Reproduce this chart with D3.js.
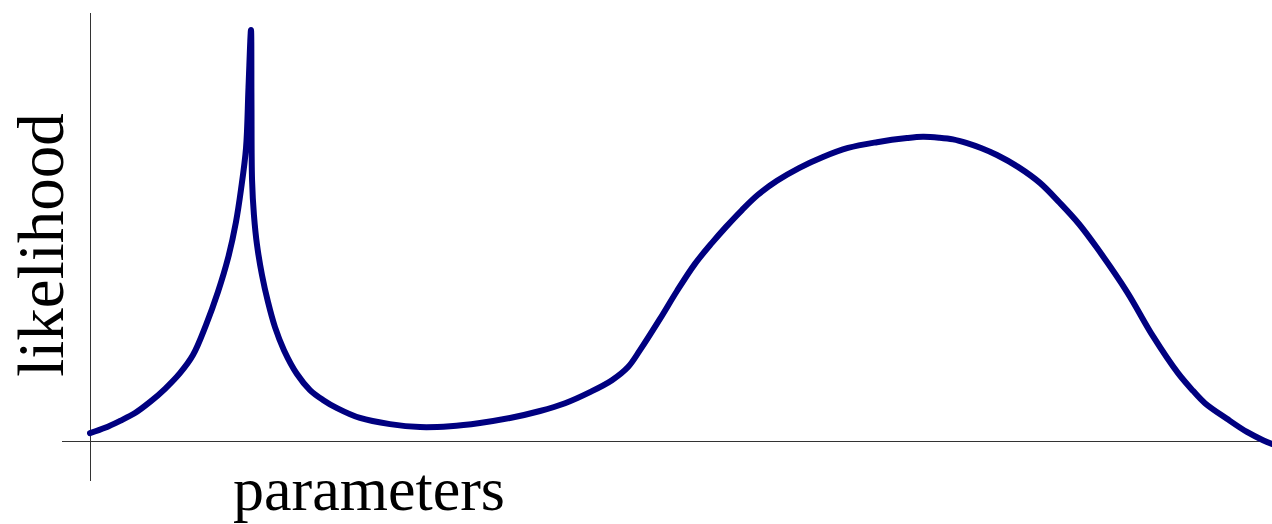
<!DOCTYPE html>
<html><head><meta charset="utf-8">
<script src="https://cdn.jsdelivr.net/npm/d3@7"></script>
<style>html,body{margin:0;padding:0;background:#fff;overflow:hidden}</style>
</head><body><svg id="c" width="1272" height="524"></svg>
<script>
const paramX = [0,1.27,2.54,3.81,5.08,6.35,7.61,8.71,9.81,10.83,11.68,12.35,12.77,13.20,13.41,13.62,13.66,13.71,13.87,14.13,14.55,15.06,15.65,16.41,17.51,18.61,19.71,20.90,22.84,25.38,27.92,30.46,32.99,35.53,38.07,40.19,42.30,44.16,45.52,46.53,48.22,49.66,51.18,52.62,53.81,55.16,56.51,58.12,59.98,62.01,64.13,66.58,69.12,70.47,71.83,73.01,74.20,75.38,76.73,78.51,80.37,82.06,83.67,85.19,87.73,89.93,92.05,93.32,94.33,96.19,97.88,99.24,100];
const likelihood = [1.9,3.2,4.9,6.8,9.5,12.7,16.5,20.9,28.2,36.3,44.5,53.3,61.1,71.3,86.1,100,83.0,63.5,55.0,47.7,40.4,33.8,27.7,22.1,16.3,12.4,10.0,8.0,5.6,4.1,3.4,3.6,4.4,5.6,7.3,9.2,11.9,14.8,18.0,22.1,29.7,36.5,43.1,48.2,52.1,56.2,59.9,63.3,66.4,69.1,71.3,72.7,73.7,74.0,73.8,73.4,72.5,71.3,69.6,66.7,62.8,57.9,52.8,47.0,36.3,25.5,16.5,12.2,9.2,5.4,2.2,0.2,-0.7];
const xLabel = "parameters";
const yLabel = "likelihood";

const svg = d3.select("#c");
const x = d3.scaleLinear().domain([0,100]).range([90,1272]);
const y = d3.scaleLinear().domain([0,100]).range([441,30]);

const xAxis = d3.axisBottom(x).tickValues([]).tickSizeOuter(0);
const yAxis = d3.axisLeft(y).tickValues([]).tickSizeOuter(0);
const gx = svg.append("g").attr("transform","translate(0,"+y(0)+")").call(xAxis);
gx.select(".domain").attr("d","M"+(x(0)-28)+",0.5H"+x(100)).attr("stroke","#333").attr("stroke-width",1);
const gy = svg.append("g").attr("transform","translate("+(x(0)+0.5)+",0)").call(yAxis);
gy.select(".domain").attr("d","M0,"+(y(0)+40)+"V"+(y(100)-17)).attr("stroke","#333").attr("stroke-width",1);

const pts = paramX.map((v,i)=>[v,likelihood[i]]);
const line = d3.line().x(d=>x(d[0])).y(d=>y(d[1])).curve(d3.curveCatmullRom.alpha(0.5));
svg.append("path").attr("d",line(pts)).attr("fill","none")
  .attr("stroke","#000080").attr("stroke-width",6)
  .attr("stroke-linejoin","round").attr("stroke-linecap","round");

svg.append("text").attr("x",369).attr("y",510).attr("text-anchor","middle")
  .attr("font-family","Liberation Serif").attr("font-size",62).attr("fill","#000").text(xLabel);
svg.append("text").attr("transform","translate(63,245) rotate(-90)").attr("text-anchor","middle")
  .attr("font-family","Liberation Serif").attr("font-size",65).attr("fill","#000").text(yLabel);
</script></body></html>
